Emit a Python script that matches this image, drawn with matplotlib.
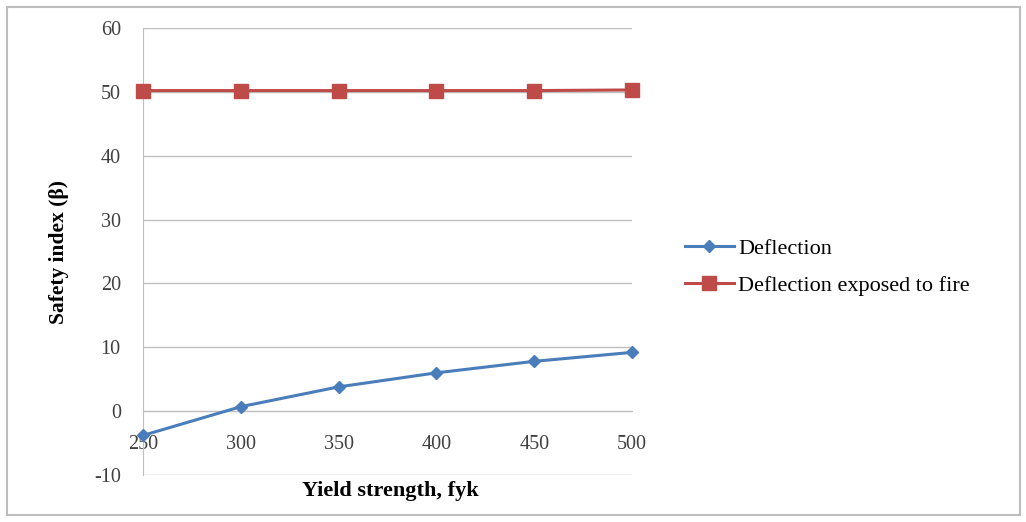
import matplotlib
matplotlib.use("Agg")
import matplotlib.pyplot as plt
from matplotlib.patches import Rectangle

plt.rcParams['font.family'] = ['Liberation Serif', 'DejaVu Serif']

# data
fyk = [250, 300, 350, 400, 450, 500]
deflection = [-3.8, 0.7, 3.8, 6.0, 7.8, 9.2]
deflection_fire = [50.2, 50.2, 50.2, 50.2, 50.2, 50.3]
y_ticks = [-10, 0, 10, 20, 30, 40, 50, 60]

fig = plt.figure(figsize=(10.26, 5.22), dpi=100)
fig.patches.append(Rectangle((7 / 1026, 7 / 522), 1013 / 1026, 508 / 522,
                             transform=fig.transFigure, fill=False,
                             edgecolor='#BDBDBD', linewidth=1.5))

ax = fig.add_axes([143 / 1026, 47 / 522, 489 / 1026, 447 / 522])

ax.plot(fyk, deflection, color='#4A7EBB', lw=2.2, marker='D', ms=6,
        markerfacecolor='#4A7EBB', markeredgecolor='#4A7EBB', label='Deflection', zorder=3)
ax.plot(fyk, deflection_fire, color='#BE4B48', lw=2.2, marker='s', ms=10,
        markerfacecolor='#BE4B48', markeredgecolor='#BE4B48',
        label='Deflection exposed to fire', zorder=3)

ax.set_xlim(250, 500)
ax.set_ylim(-10, 60)
ax.set_xticks(fyk)
ax.set_yticks(y_ticks)
ax.set_yticklabels([str(v) if v >= 0 else '-' + str(-v) for v in y_ticks])
ax.grid(axis='y', color='#BFBFBF', lw=1)
ax.set_axisbelow(True)

for s in ['top', 'right']:
    ax.spines[s].set_visible(False)
ax.spines['left'].set_color('#BFBFBF')
ax.spines['bottom'].set_position(('data', 0))
ax.spines['bottom'].set_color('#BFBFBF')
ax.tick_params(axis='both', length=0, labelsize=14.5, colors='#404040')
ax.tick_params(axis='x', pad=17)
ax.tick_params(axis='y', pad=16)
for ln in ax.lines:
    ln.set_clip_on(False)

ax.set_ylabel('Safety index (β)', fontsize=15.5, fontweight='bold', labelpad=18)
fig.text(390 / 1026, 1 - 491 / 522, 'Yield strength, fyk', fontsize=16,
         fontweight='bold', ha='center', va='center')

fig.legend(loc='center left', bbox_to_anchor=(665 / 1026, 1 - 267 / 522),
           frameon=False, fontsize=16, handlelength=2.2, handletextpad=0.2,
           labelspacing=0.75)

fig.savefig('out.png', dpi=100)
